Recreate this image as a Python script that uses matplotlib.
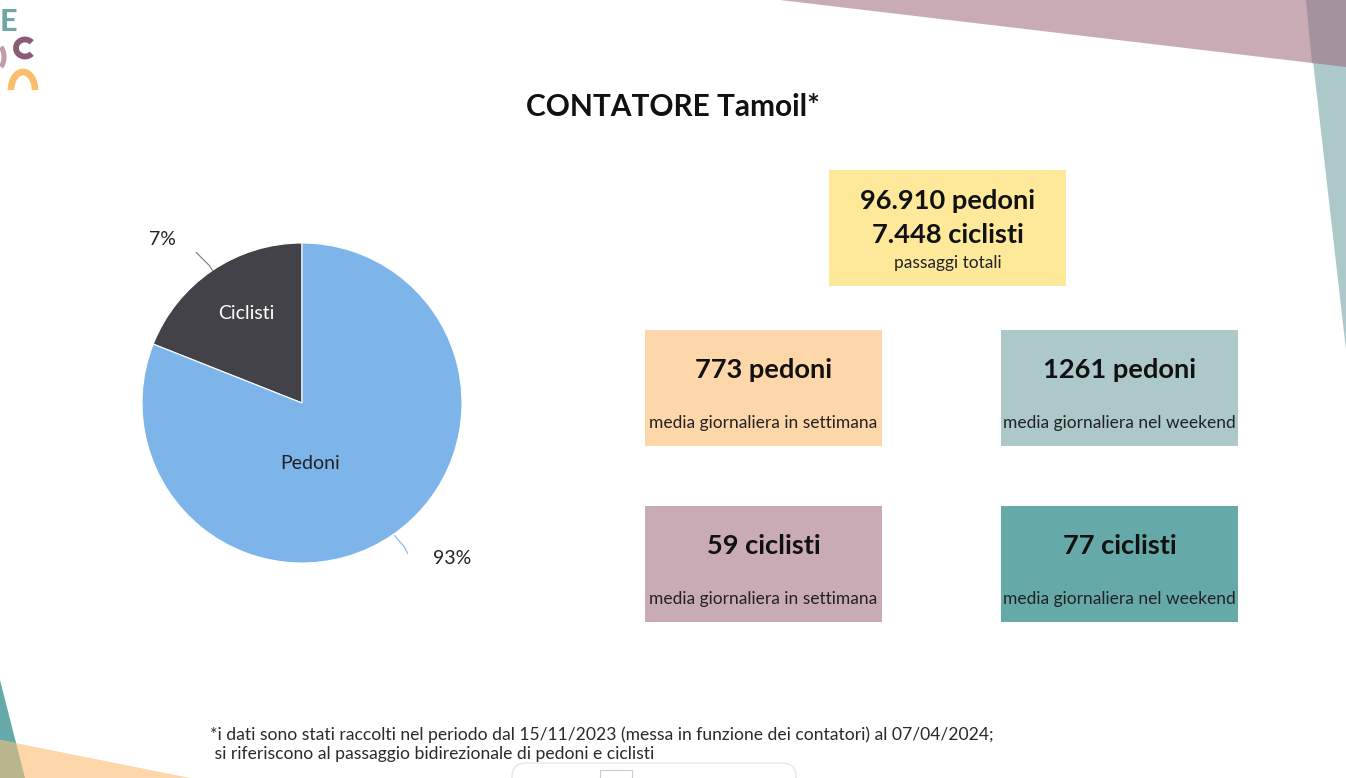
import matplotlib.pyplot as plt
from matplotlib.patches import Rectangle, Polygon, FancyBboxPatch, Arc

# === DATA ===
pie_labels = ["Ciclisti", "Pedoni"]
pie_shares = [19, 81]          # share of the circle as drawn in the picture
pie_pct = ["7%", "93%"]        # percentages written next to the pie
pie_colors = ["#434248", "#7db5ea"]

total_lines = ["96.910 pedoni", "7.448 ciclisti"]
total_sub = "passaggi totali"

box_titles = ["773 pedoni", "1261 pedoni", "59 ciclisti", "77 ciclisti"]
box_subs = ["media giornaliera in settimana", "media giornaliera nel weekend",
            "media giornaliera in settimana", "media giornaliera nel weekend"]
box_colors = ["#fdd6aa", "#adc8c9", "#c9abb6", "#65aaa8"]

title = "CONTATORE Tamoil*"
footnote = ("*i dati sono stati raccolti nel periodo dal 15/11/2023 (messa in funzione dei contatori) al 07/04/2024;\n"
            " si riferiscono al passaggio bidirezionale di pedoni e ciclisti")

W, H = 1346, 778
plt.rcParams['font.family'] = ['Lato', 'DejaVu Sans']

fig = plt.figure(figsize=(W / 100, H / 100), dpi=100)
fig.patch.set_facecolor("white")

# background axes in pixel coordinates
bg = fig.add_axes([0, 0, 1, 1])
bg.set_xlim(0, W)
bg.set_ylim(H, 0)
bg.axis("off")

# decorative corner shapes
bg.add_patch(Polygon([(780, 0), (W, 0), (W, 67)], closed=True, color="#c9abb6", lw=0))
bg.add_patch(Polygon([(1306, 0), (W, 0), (W, 350)], closed=True, color="#adc8c9", lw=0))
bg.add_patch(Polygon([(1306, 0), (W, 0), (W, 67), (1312, 63)], closed=True, color="#a4929e", lw=0))
bg.add_patch(Polygon([(0, 680), (25, 778), (0, 778)], closed=True, color="#65aaa8", lw=0))
bg.add_patch(Polygon([(0, 740), (190, 778), (0, 778)], closed=True, color="#fdd6aa", lw=0))
bg.add_patch(Polygon([(0, 740), (16, 743), (25, 778), (0, 778)], closed=True, color="#b9b58d", lw=0))

# toolbar remnant at the bottom
bg.add_patch(FancyBboxPatch((512, 763), 284, 40, boxstyle="round,pad=0,rounding_size=14",
                            fc="white", ec="#e6e6e6", lw=1))
bg.add_patch(Rectangle((600, 770), 32, 12, fc="white", ec="#cccccc", lw=0.8))

# logo fragment top-left (pixel units, clipped at y=90)
logo = fig.add_axes([0, 1 - 90 / H, 45 / W, 90 / H])
logo.set_xlim(0, 45)
logo.set_ylim(90, 0)
logo.axis("off")
logo.text(0, 22, "E", color="#6ea7a6", fontsize=22, fontweight="black", ha="left", va="center")
logo.add_patch(Arc((25, 48), 18, 17, theta1=40, theta2=320, color="#8c5a77", lw=4.2))
logo.add_patch(Arc((-6, 57), 20, 28, theta1=-55, theta2=55, color="#c39aa9", lw=3.6))
logo.add_patch(Arc((23, 90), 24, 36, theta1=180, theta2=360, color="#fbbd6b", lw=4.8))

# title
bg.text(W / 2, 107, title, fontsize=21.5, fontweight="bold", ha="center", va="center", color="#111111")

# pie chart
cx, cy, r = 302, 403, 160
pie_ax = fig.add_axes([(cx - r) / W, (H - cy - r) / H, 2 * r / W, 2 * r / H])
pie_ax.pie(pie_shares, colors=pie_colors, startangle=90, counterclock=True,
           wedgeprops=dict(edgecolor="white", linewidth=0.8))
pie_ax.set_xlim(-1, 1)
pie_ax.set_ylim(-1, 1)
pie_ax.set_aspect("equal")
pie_ax.text(-0.35, 0.56, pie_labels[0], color="white", fontsize=14, ha="center", va="center")
pie_ax.text(0.05, -0.38, pie_labels[1], color="#222222", fontsize=14, ha="center", va="center")
pie_ax.text(-0.87, 1.02, pie_pct[0], color="#222222", fontsize=14, ha="center", va="center")
pie_ax.text(0.94, -0.97, pie_pct[1], color="#222222", fontsize=14, ha="center", va="center")
pie_ax.plot([-0.66, -0.58, -0.56], [0.94, 0.86, 0.83], color="#777777", lw=0.8, clip_on=False)
pie_ax.plot([0.58, 0.64, 0.66], [-0.83, -0.9, -0.94], color="#7db5ea", lw=0.8, clip_on=False)

# totals box
bg.add_patch(Rectangle((829, 170), 237, 116, color="#fee99a", lw=0))
bg.text(947.5, 201, total_lines[0], fontsize=19.6, fontweight="bold", ha="center", va="center", color="#111111")
bg.text(947.5, 235, total_lines[1], fontsize=19.6, fontweight="bold", ha="center", va="center", color="#111111")
bg.text(947.5, 263, total_sub, fontsize=12.5, ha="center", va="center", color="#222222")

# four average boxes
box_pos = [(645, 330), (1001, 330), (645, 506), (1001, 506)]
for (x0, y0), t, s, c in zip(box_pos, box_titles, box_subs, box_colors):
    bg.add_patch(Rectangle((x0, y0), 237, 116, color=c, lw=0))
    bg.text(x0 + 118.5, y0 + 40, t, fontsize=19.6, fontweight="bold", ha="center", va="center", color="#111111")
    bg.text(x0 + 118.5, y0 + 93, s, fontsize=12.5, ha="center", va="center", color="#222222")

# footnote
bg.text(210, 744, footnote, fontsize=12.6, ha="left", va="center", color="#2a2a2a", linespacing=1.25)

fig.savefig("out.png", dpi=100)
